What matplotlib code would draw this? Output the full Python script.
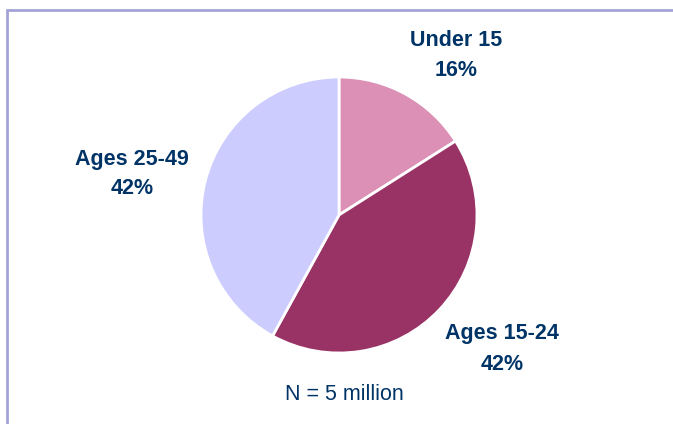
import matplotlib
matplotlib.use('Agg')
import matplotlib.pyplot as plt
from matplotlib.patches import Rectangle

groups = ['Under 15', 'Ages 15-24', 'Ages 25-49']
shares = [16, 42, 42]
colors = ['#DC90B6', '#993366', '#CCCCFF']
note = 'N = 5 million'

# label anchors in pixel coords: x centre, baseline of the first line (from top)
label_pos = [(456, 46.5), (502, 339.5), (132, 164.5)]

W, H = 673, 424
fig = plt.figure(figsize=(W / 100, H / 100), dpi=100)
ax = fig.add_axes([0, 0, 1, 1])

ax.pie(shares, colors=colors, startangle=90, counterclock=False,
       center=(339, H - 215), radius=138,
       wedgeprops=dict(edgecolor='white', linewidth=2))

# pie() resets the limits, so set them afterwards
ax.set_xlim(0, W)
ax.set_ylim(0, H)
ax.set_aspect('equal')
ax.axis('off')

lab = dict(ha='center', va='baseline', fontsize=15.5, fontweight='bold',
           color='#003366', family='Liberation Sans')
for name, val, (x, y) in zip(groups, shares, label_pos):
    ax.text(x, H - y, name, **lab)
    ax.text(x, H - y - 30, f'{val}%', **lab)

ax.text(344, H - 399.5, note, ha='center', va='baseline', fontsize=15.5,
        color='#003366', family='Liberation Sans')

# frame around the chart area
ax.add_patch(Rectangle((6.5, -20), W + 20, H - 9.5 + 20, fill=False,
                       edgecolor='#A4A4D8', linewidth=2, clip_on=False))

fig.savefig('out.png', dpi=100)
